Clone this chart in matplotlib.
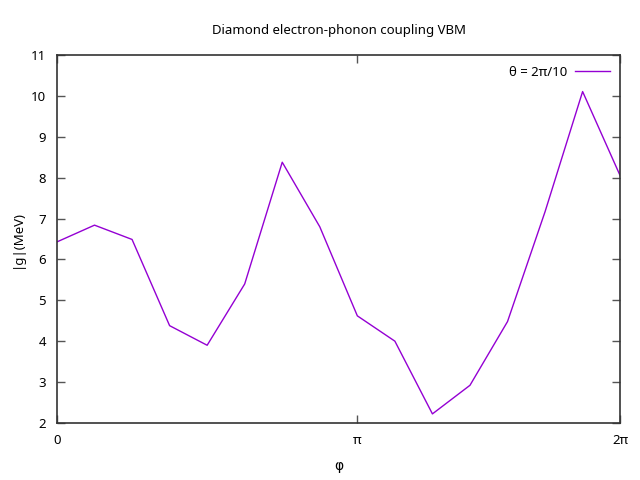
import numpy as np
import matplotlib
matplotlib.use("Agg")
import matplotlib.pyplot as plt

plt.rcParams['font.family'] = ['Noto Sans', 'DejaVu Sans']

# sample index along phi (phi = 2*pi*i/16)
idx = list(range(16))
g = [6.43, 6.84, 6.49, 4.38, 3.90, 5.40, 8.38, 6.80,
     4.62, 4.00, 2.22, 2.92, 4.48, 7.17, 10.11, 8.05]
tick_labels = ['0', 'π', '2π']

phi = np.array(idx) * 2 * np.pi / 16

fig = plt.figure(figsize=(6.4, 4.8), dpi=100)
ax = fig.add_axes([0.089, 0.119, 0.880, 0.766])
ax.plot(phi, g, color='#9400d3', lw=1, label='θ = 2π/10')

ax.set_xlim(phi[0], phi[-1])
ax.set_ylim(2, 11)
ax.set_xticks([0, np.pi, phi[-1]])
ax.set_xticklabels(tick_labels)
ax.set_yticks(range(2, 12))
ax.tick_params(direction='in', length=6, width=1, color='#555555',
               top=True, right=True, labelsize=9.5, pad=8)
for s in ax.spines.values():
    s.set_linewidth(1.2)
    s.set_color('#333333')

ax.set_title('Diamond electron-phonon coupling VBM', fontsize=9.5, pad=15)
ax.set_xlabel('φ', fontsize=10, labelpad=9, family='DejaVu Sans')
ax.set_ylabel('|g|(MeV)', fontsize=9.5, labelpad=5)
ax.legend(loc='upper right', frameon=False, markerfirst=False, fontsize=9.5,
          handlelength=2.6, handletextpad=0.6, borderaxespad=0.4)

fig.savefig('out.png', dpi=100)
